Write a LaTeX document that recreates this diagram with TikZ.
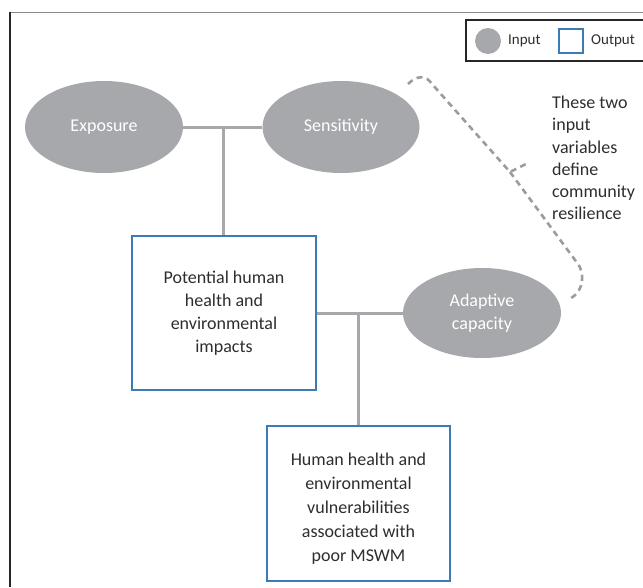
\documentclass[tikz,border=0pt]{standalone}
\usepackage{fontspec}
\setmainfont{Carlito}
\usetikzlibrary{shapes.geometric}
\definecolor{ingray}{HTML}{A7A8AB}
\definecolor{outblue}{HTML}{3C7AB8}
\definecolor{txtdark}{HTML}{2E2E2E}
\definecolor{framegray}{HTML}{8A8A8A}
\definecolor{bracegray}{HTML}{9C9C9C}
\tikzset{
  inputnode/.style={ellipse, fill=ingray, draw=none, inner sep=0pt, text=white,
    align=center, font=\fontsize{18}{23}\selectfont},
  outputnode/.style={rectangle, draw=outblue, line width=1.2pt, fill=white, inner sep=0pt,
    text=txtdark, align=center, font=\fontsize{18}{23}\selectfont},
  boxtext/.style={inner sep=0pt, text=txtdark, align=center, font=\fontsize{18}{24}\selectfont},
  link/.style={draw=ingray, line width=3pt},
  bracepath/.style={draw=bracegray, line width=2.6pt, dash pattern=on 6pt off 4.5pt},
  legendtext/.style={text=txtdark, anchor=west, inner sep=0pt, font=\fontsize{15}{18}\selectfont},
  notetext/.style={text=txtdark, anchor=north west, align=left, inner sep=0pt,
    font=\fontsize{18}{22.2}\selectfont}
}
\begin{document}
\begin{tikzpicture}[x=1pt, y=-1pt]
\useasboundingbox (0,0) rectangle (643,587);
% outer frame
\draw[framegray, line width=1.5pt] (10,12.5) -- (643,12.5);
\draw[black!85, line width=1.5pt] (10,12) -- (10,587);
% legend
\draw[black!85, line width=1.3pt] (644,20) -- (466,20) -- (466,61) -- (644,61);
\node[circle, fill=ingray, minimum size=26pt, inner sep=0pt] (legin) at (488,41) {};
\node[legendtext] (legintxt) at (508,41) {Input};
\node[rectangle, draw=outblue, line width=1.2pt, minimum size=24pt, inner sep=0pt] (legout) at (571,41) {};
\node[legendtext] (legouttxt) at (591,41) {Output};
% inputs
\node[inputnode, minimum width=158pt, minimum height=92pt] (expo) at (104,127) {Exposure};
\node[inputnode, minimum width=157pt, minimum height=92pt] (sens) at (341,127) {Sensitivity};
\node[inputnode, minimum width=158pt, minimum height=90pt] (adapt) at (482,313) {Adaptive\\capacity};
% outputs
\node[outputnode, minimum width=184pt, minimum height=154pt] (pot) at (224,313)
  {Potential human\\health and\\environmental\\impacts};
\node[outputnode, minimum width=183pt, minimum height=155pt] (hum) at (358.5,503.5) {};
\node[boxtext] (humtxt) at (358.5,508.5)
  {Human health and\\environmental\\vulnerabilities\\associated with\\poor MSWM};
% connectors
\coordinate (j1) at (223,127);
\coordinate (j2) at (358.5,313);
\draw[link] (expo.east) -- (sens.west);
\draw[link] (j1) -- (pot.north -| j1);
\draw[link] (pot.east) -- (adapt.west);
\draw[link] (j2) -- (hum.north);
% brace
\draw[bracepath] (408,84) .. controls (417,75) and (426,75) .. (432,84) -- (510,172) -- (528,163);
\draw[bracepath] (510,172) -- (578,264) .. controls (584,272) and (585,290) .. (571,298);
% note
\node[notetext] (note) at (552,96) {These two\\input\\variables\\define\\community\\resilience};
\end{tikzpicture}
\end{document}
